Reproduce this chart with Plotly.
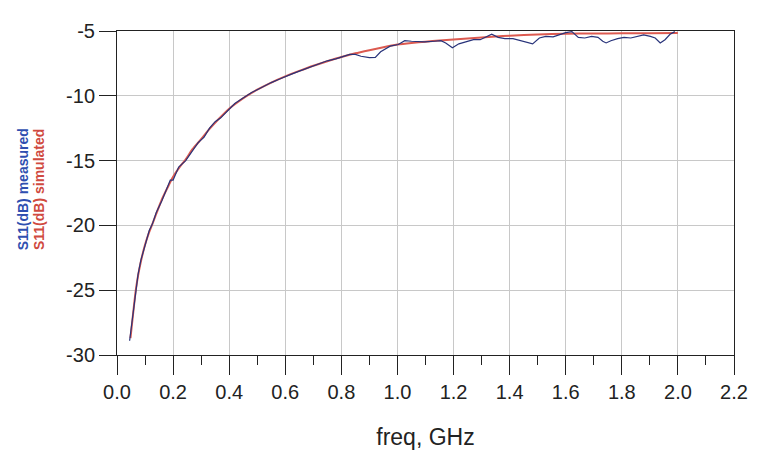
import plotly.graph_objects as go

# Simulated S11 (dB) vs frequency (GHz)
sim_freq = [0.048, 0.055, 0.06, 0.067, 0.075, 0.085, 0.1, 0.115, 0.126, 0.14, 0.16, 0.18,
            0.2, 0.22, 0.245, 0.27, 0.3, 0.33, 0.36, 0.4, 0.43, 0.46, 0.5, 0.55, 0.6, 0.65,
            0.7, 0.75, 0.8, 0.85, 0.9, 0.95, 1.0, 1.05, 1.1, 1.15, 1.2, 1.25, 1.3, 1.35,
            1.4, 1.5, 1.6, 1.7, 1.8, 1.9, 2.0]
sim_db = [-28.7, -27.3, -26.3, -25.0, -23.9, -22.8, -21.5, -20.5, -19.9, -19.1, -18.0, -17.1,
          -16.25, -15.6, -14.9, -14.1, -13.35, -12.55, -11.85, -11.0, -10.5, -10.05, -9.53, -8.98, -8.5, -8.08,
          -7.68, -7.33, -7.0, -6.72, -6.48, -6.25, -6.05, -5.92, -5.82, -5.73, -5.65, -5.57, -5.5, -5.42,
          -5.36, -5.27, -5.21, -5.19, -5.18, -5.17, -5.16]

# Measured S11 (dB) vs frequency (GHz)
meas_freq = [0.045, 0.05, 0.055, 0.06, 0.067, 0.075, 0.085, 0.1, 0.115, 0.126, 0.14, 0.16, 0.18,
             0.19, 0.2, 0.21, 0.22, 0.245, 0.26, 0.27, 0.29, 0.3, 0.31, 0.33, 0.35, 0.37, 0.4,
             0.42, 0.44, 0.46, 0.48, 0.5, 0.52, 0.55, 0.58, 0.6, 0.62, 0.65, 0.68, 0.7, 0.73,
             0.75, 0.78, 0.8, 0.83, 0.85, 0.87, 0.9, 0.921, 0.94, 0.956, 0.974, 1.003, 1.026,
             1.05, 1.073, 1.096, 1.131, 1.155, 1.172, 1.196, 1.219, 1.248, 1.271, 1.295, 1.318,
             1.336, 1.359, 1.383, 1.412, 1.435, 1.459, 1.482, 1.506, 1.529, 1.555, 1.578, 1.6,
             1.622, 1.645, 1.668, 1.692, 1.715, 1.732, 1.744, 1.761, 1.785, 1.808, 1.832, 1.855,
             1.878, 1.902, 1.919, 1.937, 1.954, 1.972, 1.989]
meas_db = [-28.9, -28.0, -27.0, -26.2, -25.0, -23.8, -22.7, -21.5, -20.4, -19.9, -19.0, -18.1, -17.1,
           -16.5, -16.5, -16.0, -15.5, -15.0, -14.5, -14.2, -13.6, -13.4, -13.2, -12.5, -12.0, -11.7, -11.0,
           -10.6, -10.3, -10.0, -9.75, -9.53, -9.3, -8.98, -8.7, -8.5, -8.35, -8.1, -7.85, -7.7, -7.45,
           -7.3, -7.15, -7.0, -6.8, -6.8, -6.95, -7.05, -7.03, -6.6, -6.41, -6.17, -6.04, -5.75,
           -5.79, -5.84, -5.84, -5.79, -5.75, -5.92, -6.29, -5.99, -5.79, -5.67, -5.67, -5.42,
           -5.25, -5.49, -5.59, -5.59, -5.74, -5.84, -5.99, -5.54, -5.42, -5.45, -5.28, -5.12,
           -5.05, -5.49, -5.54, -5.42, -5.49, -5.79, -5.92, -5.75, -5.59, -5.49, -5.54, -5.42,
           -5.30, -5.42, -5.54, -5.92, -5.67, -5.25, -5.05]

x_ticks = [0.0, 0.2, 0.4, 0.6, 0.8, 1.0, 1.2, 1.4, 1.6, 1.8, 2.0, 2.2]
x_tick_labels = ["0.0", "0.2", "0.4", "0.6", "0.8", "1.0", "1.2", "1.4", "1.6", "1.8", "2.0", "2.2"]
x_minor_ticks = [0.1, 0.3, 0.5, 0.7, 0.9, 1.1, 1.3, 1.5, 1.7, 1.9, 2.1]
y_ticks = [-30, -25, -20, -15, -10, -5]
y_tick_labels = ["-30", "-25", "-20", "-15", "-10", "-5"]

FONT = "Liberation Sans, Arial, sans-serif"

fig = go.Figure()
fig.add_trace(go.Scatter(x=sim_freq, y=sim_db, mode="lines", name="S11(dB) simulated",
                         line=dict(color="#dc5a50", width=2, shape="spline", smoothing=0.6)))
fig.add_trace(go.Scatter(x=meas_freq, y=meas_db, mode="lines", name="S11(dB) measured",
                         line=dict(color="#28337a", width=1.2)))

fig.update_layout(
    width=752, height=449,
    margin=dict(l=109, r=15, t=15, b=99),
    paper_bgcolor="white", plot_bgcolor="white",
    showlegend=False,
    font=dict(family=FONT, color="#222222"),
    xaxis=dict(
        range=[0, 2.2], tickvals=x_ticks, ticktext=x_tick_labels,
        ticks="outside", ticklen=19, tickcolor="#222222", tickwidth=1,
        showline=True, linecolor="#222222", linewidth=1, mirror=True,
        showgrid=True, gridcolor="#c8c8c8", gridwidth=1, zeroline=False,
        tickfont=dict(size=20, family=FONT, color="#222222"),
        minor=dict(tickvals=x_minor_ticks,
                   ticks="outside", ticklen=9, tickcolor="#222222", showgrid=False),
        title=dict(text="freq, GHz", font=dict(size=23, family=FONT, color="#222222"), standoff=26),
    ),
    yaxis=dict(
        range=[-30, -5], tickvals=y_ticks, ticktext=y_tick_labels,
        ticks="outside", ticklen=17, tickcolor="#222222", tickwidth=1,
        showline=True, linecolor="#222222", linewidth=1, mirror=True,
        showgrid=True, gridcolor="#c8c8c8", gridwidth=1, zeroline=False,
        tickfont=dict(size=20, family=FONT, color="#222222"),
    ),
)

fig.add_annotation(text="<b>S11(dB) measured</b>", xref="paper", yref="paper",
                   x=-0.153, y=0.51, textangle=-90, showarrow=False,
                   xanchor="center", yanchor="middle",
                   font=dict(size=14, family=FONT, color="#2f4fb0"))
fig.add_annotation(text="<b>S11(dB) simulated</b>", xref="paper", yref="paper",
                   x=-0.126, y=0.51, textangle=-90, showarrow=False,
                   xanchor="center", yanchor="middle",
                   font=dict(size=14, family=FONT, color="#d04a40"))

fig.write_html("out.html")
